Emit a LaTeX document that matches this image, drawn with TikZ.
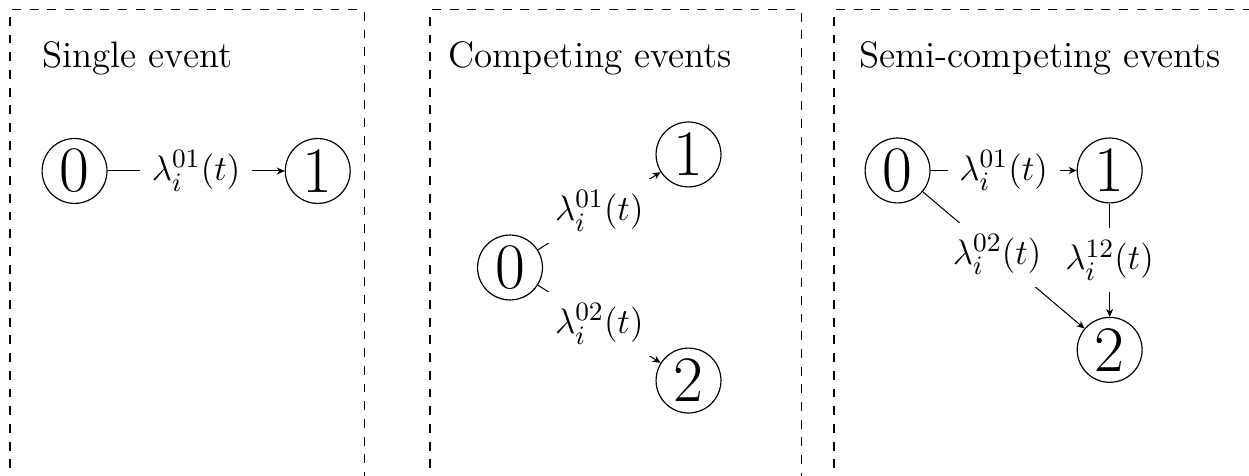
\documentclass[tikz,border=0pt,12pt]{standalone}
\usepackage{fontspec}
\usepackage{amsmath}
\usepackage{tikz}
\usetikzlibrary{arrows.meta,positioning}

\begin{document}
\begin{tikzpicture}[
  state/.style={draw,circle,minimum size=22pt,inner sep=1pt,font=\fontsize{22}{26}\selectfont},
  rate/.style={fill=white,font=\fontsize{13}{16}\selectfont},
  arrow/.style={-{Stealth[length=2.7pt,width=2.4pt]},line width=0.35pt},
  panel/.style={draw,line width=0.35pt,dash pattern=on 3pt off 3pt},
  title/.style={anchor=base west,inner sep=0pt,font=\fontsize{12.5}{15}\selectfont},
  node distance=2.11cm
]
\useasboundingbox (0,0) rectangle (14.88,-5.671);
\clip (0,0) rectangle (14.88,-5.671);

\draw[panel] (0.119,-6) rectangle (4.337,-0.119);
\draw[panel] (5.123,-6) rectangle (9.543,-0.119);
\draw[panel] (9.936,-6) rectangle (15.3,-0.119);

\node[title] (single) at (0.500,-0.810) {Single event};
\node[title] (comp) at (5.338,-0.810) {Competing events};
\node[title] (semi) at (10.234,-0.810) {Semi-competing events};

\node[state] (s0) at (0.888,-2.037) {0};
\node[state,right=of s0] (s1) {1};

\node[state] (c0) at (6.076,-3.187) {0};
\node[state,above right=0.79cm and 1.57cm of c0] (c1) {1};
\node[state,below right=0.79cm and 1.57cm of c0] (c2) {2};

\node[state] (m0) at (10.693,-2.031) {0};
\node[state,right=1.74cm of m0] (m1) {1};
\node[state,below=1.35cm of m1] (m2) {2};

\draw[arrow] (s0) -- node[rate] {$\lambda_i^{01}(t)$} (s1);
\draw[arrow] (c0) -- node[rate] {$\lambda_i^{01}(t)$} (c1);
\draw[arrow] (c0) -- node[rate] {$\lambda_i^{02}(t)$} (c2);
\draw[arrow] (m0) -- node[rate] {$\lambda_i^{01}(t)$} (m1);
\draw[arrow] (m0) -- node[rate,pos=0.46] {$\lambda_i^{02}(t)$} (m2);
\draw[arrow] (m1) -- node[rate] {$\lambda_i^{12}(t)$} (m2);
\end{tikzpicture}
\end{document}
